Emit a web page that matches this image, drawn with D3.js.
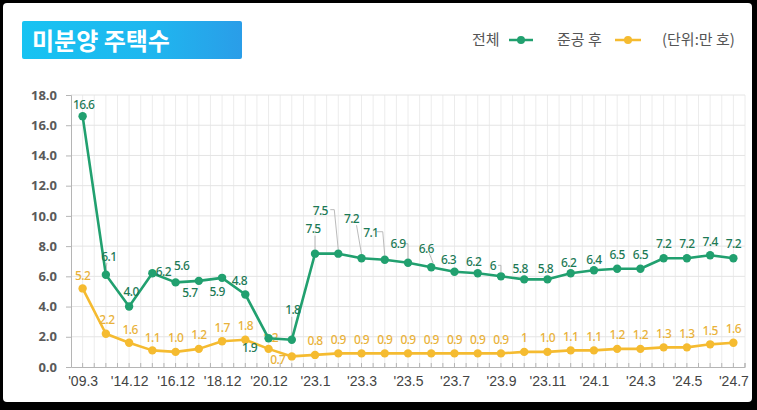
<!DOCTYPE html>
<html><head><meta charset="utf-8">
<script src="https://cdn.jsdelivr.net/npm/d3@7"></script>
<style>
html,body{margin:0;padding:0;background:#000;}
svg{display:block;}
</style></head>
<body>
<svg id="c" width="757" height="410"></svg>
<script>
const categories = ["'09.3","'13.12","'14.12","'15.12","'16.12","'17.12","'18.12","'19.12","'20.12","'21.12",
  "'23.1","'23.2","'23.3","'23.4","'23.5","'23.6","'23.7","'23.8","'23.9","'23.10","'23.11","'23.12",
  "'24.1","'24.2","'24.3","'24.4","'24.5","'24.6","'24.7"];
const tickLabels = ["'09.3","'14.12","'16.12","'18.12","'20.12","'23.1","'23.3","'23.5","'23.7","'23.9","'23.11","'24.1","'24.3","'24.5","'24.7"];
const totalValues = [16.6,6.1,4.0,6.2,5.6,5.7,5.9,4.8,1.9,1.8,7.5,7.5,7.2,7.1,6.9,6.6,6.3,6.2,6.0,5.8,5.8,6.2,6.4,6.5,6.5,7.2,7.2,7.4,7.2];
const totalLabels = ["16.6","6.1","4.0","6.2","5.6","5.7","5.9","4.8","1.9","1.8","7.5","7.5","7.2","7.1","6.9","6.6","6.3","6.2","6","5.8","5.8","6.2","6.4","6.5","6.5","7.2","7.2","7.4","7.2"];
const afterValues = [5.2,2.2,1.6,1.1,1.0,1.2,1.7,1.8,1.2,0.7,0.8,0.9,0.9,0.9,0.9,0.9,0.9,0.9,0.9,1.0,1.0,1.1,1.1,1.2,1.2,1.3,1.3,1.5,1.6];
const afterLabels = ["5.2","2.2","1.6","1.1","1.0","1.2","1.7","1.8","1.2","0.7","0.8","0.9","0.9","0.9","0.9","0.9","0.9","0.9","0.9","1","1.0","1.1","1.1","1.2","1.2","1.3","1.3","1.5","1.6"];
const yTicks = [0,2,4,6,8,10,12,14,16,18];

// label placement (offsets from point, px) - styling only
const totalOff = [[1,-12],[3,-18],[2,-15],[11,-2],[6,-17],[-9,12],[-5,14],[-6,-14],[-19,9],[1,-30],
  [-2,-25],[-18,-43],[-10,-40],[-14,-27],[-10,-19],[-5,-19],[-6,-12],[-4,-12],[-8,-11],[-4,-11],[-2,-11],
  [-2,-11],[0,-11],[0,-14],[0,-14],[0,-15],[0,-15],[0,-14],[0,-15]];
const afterOff = [[0,-13],[1,-14],[1,-13],[0,-13],[0,-14],[0,-14],[0,-14],[0,-14],[2,-11],[-14,3],
  [0,-14],[0,-14],[0,-14],[0,-14],[0,-14],[0,-14],[0,-14],[0,-14],[0,-14],[0,-14],[0,-14],
  [0,-14],[0,-14],[0,-14],[0,-14],[0,-14],[0,-14],[0,-14],[0,-14]];
// leader lines for some total labels: [index, [[dx,dy],...]] relative to point
const leaders = [[1,[[1,-12],[0,-4]]],[9,[[0,-23],[0,-4]]],[10,[[0,-18],[0,-4]]],[11,[[-8,-44],[-4,-44],[0,-4]]],
  [12,[[-5,-33],[0,-4]]],[13,[[-8,-28],[-2,-28],[0,-4]]],[14,[[-4,-19],[0,-19],[0,-4]]],[15,[[-2,-14],[2,-4]]],
  [18,[[-3,-11],[0,-11],[0,-4]]]];

const green = "#21a06f", greenText = "#1d7a56", yellow = "#f5bb30", yellowText = "#e9b23a";

const svg = d3.select("#c");
svg.append("rect").attr("x",3).attr("y",3).attr("width",749).attr("height",399).attr("rx",4).attr("fill","#fff");

// title
const grad = svg.append("defs").append("linearGradient").attr("id","tg").attr("x1","0").attr("x2","1");
grad.append("stop").attr("offset","0").attr("stop-color","#17c3f2");
grad.append("stop").attr("offset","0.6").attr("stop-color","#1fb6ef");
grad.append("stop").attr("offset","1").attr("stop-color","#2a9de8");
svg.append("rect").attr("x",22).attr("y",21).attr("width",220).attr("height",38).attr("rx",2).attr("fill","url(#tg)");
svg.append("text").attr("x",32).attr("y",50).attr("fill","#fff")
  .style("font-family","'Noto Sans CJK KR'").style("font-weight","700").style("font-size","24px").text("미분양 주택수");

// legend
const lg = svg.append("g").style("font-family","'Noto Sans CJK KR'").style("font-size","15px").attr("fill","#555");
lg.append("text").attr("x",472).attr("y",45).text("전체");
lg.append("line").attr("x1",509).attr("x2",533).attr("y1",40).attr("y2",40).attr("stroke",green).attr("stroke-width",2.5);
lg.append("circle").attr("cx",521).attr("cy",40).attr("r",4).attr("fill",green);
lg.append("text").attr("x",557).attr("y",45).text("준공 후");
lg.append("line").attr("x1",615).attr("x2",641).attr("y1",40).attr("y2",40).attr("stroke",yellow).attr("stroke-width",2.5);
lg.append("circle").attr("cx",628).attr("cy",40).attr("r",4).attr("fill",yellow);
lg.append("text").attr("x",662).attr("y",45).text("(단위:만 호)");

const x = d3.scalePoint().domain(categories).range([71,745]).padding(0.5);
const y = d3.scaleLinear().domain([0,18]).range([367,95]);
const step = x.step();

// grid
const gx = [];
categories.forEach(c => { gx.push(x(c)); gx.push(x(c)+step/2); });
svg.append("g").selectAll("line").data(gx).join("line")
  .attr("x1",d=>d).attr("x2",d=>d).attr("y1",y(18)).attr("y2",y(0))
  .attr("stroke","#ececec").attr("stroke-width",1);
svg.append("g").selectAll("line").data(yTicks.filter(d=>d>0)).join("line")
  .attr("x1",71).attr("x2",745).attr("y1",d=>y(d)).attr("y2",d=>y(d))
  .attr("stroke","#e4e4e4").attr("stroke-width",1);

// y axis
const ya = svg.append("g").attr("transform","translate(71,0)")
  .call(d3.axisLeft(y).tickValues(yTicks).tickFormat(d3.format(".1f")).tickSize(5).tickPadding(9));
ya.select(".domain").attr("stroke","#b5b5b5");
ya.selectAll(".tick line").attr("stroke","#b5b5b5");
ya.selectAll("text").attr("fill","#5a5a5a").style("font-family","'Open Sans'").style("font-weight","700").style("font-size","13px");

// x axis
const xa = svg.append("g").attr("transform","translate(0,367)")
  .call(d3.axisBottom(x).tickValues(tickLabels).tickSize(0).tickPadding(9));
xa.select(".domain").attr("stroke","#b5b5b5");
xa.selectAll("text").attr("fill","#444").style("font-family","'Liberation Sans'").style("font-size","14px");
svg.append("g").selectAll("line").data(gx).join("line")
  .attr("x1",d=>d).attr("x2",d=>d).attr("y1",363).attr("y2",367)
  .attr("stroke","#b5b5b5");
svg.append("line").attr("x1",745).attr("x2",745).attr("y1",363).attr("y2",367).attr("stroke","#b5b5b5");

// leaders
const lineGen = d3.line();
leaders.forEach(([i,pts]) => {
  const px = x(categories[i]), py = y(totalValues[i]);
  svg.append("path").attr("d", lineGen(pts.map(p=>[px+p[0],py+p[1]])))
    .attr("fill","none").attr("stroke","#aaa").attr("stroke-width",0.8);
});

function series(vals, labels, offs, col, tcol) {
  const g = svg.append("g");
  g.append("path").datum(vals).attr("fill","none").attr("stroke",col).attr("stroke-width",2.6)
    .attr("stroke-linejoin","round")
    .attr("d", d3.line().x((d,i)=>x(categories[i])).y(d=>y(d)));
  g.selectAll("circle").data(vals).join("circle")
    .attr("cx",(d,i)=>x(categories[i])).attr("cy",d=>y(d)).attr("r",4.2).attr("fill",col);
  g.selectAll("text").data(vals).join("text")
    .attr("x",(d,i)=>x(categories[i])+offs[i][0]).attr("y",(d,i)=>y(d)+offs[i][1])
    .attr("text-anchor","middle").attr("dominant-baseline","central")
    .attr("fill",tcol).style("font-family","'Noto Sans'").style("font-size","12px").style("font-weight","500")
    .style("letter-spacing","-0.6px")
    .text((d,i)=>labels[i]);
}
series(afterValues, afterLabels, afterOff, yellow, yellowText);
series(totalValues, totalLabels, totalOff, green, greenText);
</script>
</body></html>
